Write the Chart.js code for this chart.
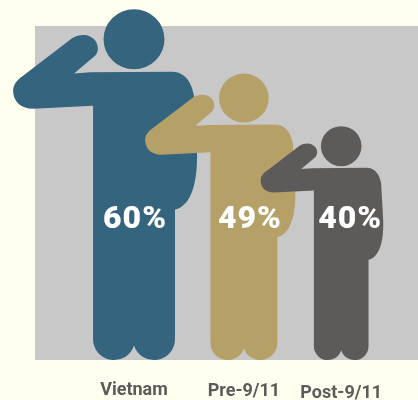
<!DOCTYPE html>
<html>
<head>
<meta charset="utf-8">
<style>html,body{margin:0;padding:0;background:#FFFFF0;overflow:hidden}canvas{display:block}</style>
<script src="https://cdn.jsdelivr.net/npm/chart.js@4"></script>
</head>
<body>
<canvas id="c" width="418" height="400"></canvas>
<script>
const categories = ['Vietnam', 'Pre-9/11', 'Post-9/11'];
const percentages = [60, 49, 40];
const figureColors = ['#35647E', '#B5A068', '#5C5B59'];

// Category scale whose slots are unevenly spaced, so bars and ticks both follow it.
class SlotScale extends Chart.CategoryScale {
  static id = 'slot';
  static defaults = Chart.CategoryScale.defaults;
  getPixelForValue(value) {
    const v = typeof value === 'number' ? value : this.parse(value);
    return this.left + this.width * this.options.slotCentres[v];
  }
  _computeLabelItems(area) {
    const items = super._computeLabelItems(area);
    items.forEach((it, i) => { it.options.translation[1] += this.options.labelDrop[i] || 0; });
    return items;
  }
}
Chart.register(SlotScale);

// Saluting-figure template: 350 glyph units tall, origin at foot centre.
const glyphHeight = 350;
const bodyPath = new Path2D(
  'M-41 -254.5 L-101 -251.5 C-114 -251.5 -121 -259.5 -121 -269.5 C-121 -275.5 -117 -280.5 -111 -284.5 ' +
  'L-62 -322 C-56 -326 -44 -327.5 -38 -318.5 C-35 -312.5 -36 -307.5 -39 -304.5 L-60 -286.8 ' +
  'L-44 -288 L38 -288.5 C51 -288.5 58 -277.5 60 -264.5 L63 -209.5 C64 -179.5 58 -154.5 41 -150.5 ' +
  'L41 -21 A21 21 0 0 1 0 -14.5 A21 21 0 0 1 -41 -21 Z');
const headPath = new Path2D('M30.5 -321 A30.5 30 0 1 1 -30.5 -321 A30.5 30 0 1 1 30.5 -321 Z');

const saluteFigures = {
  id: 'saluteFigures',
  beforeDraw(chart) {
    const { ctx, chartArea: a } = chart;
    ctx.save();
    ctx.fillStyle = '#C8C8C8';
    ctx.fillRect(a.left, a.top, a.right - a.left, a.bottom - a.top);
    ctx.restore();
  },
  afterDatasetsDraw(chart, args, opts) {
    const { ctx } = chart;
    const bars = chart.getDatasetMeta(0).data;
    bars.forEach((bar, i) => {
      const s = (bar.base - bar.y) / glyphHeight;
      ctx.save();
      ctx.translate(bar.x, bar.base);
      ctx.scale(s, s);
      ctx.fillStyle = figureColors[i];
      ctx.fill(bodyPath);
      ctx.fill(headPath);
      ctx.restore();
    });
    ctx.save();
    ctx.fillStyle = '#FFFFFF';
    ctx.font = opts.font;
    ctx.textAlign = 'center';
    ctx.textBaseline = 'middle';
    ctx.letterSpacing = opts.spacing;
    const labelY = chart.scales.y.getPixelForValue(opts.labelLevel);
    bars.forEach((bar, i) => {
      ctx.fillText(percentages[i] + '%', bar.x + opts.shift[i], labelY);
    });
    ctx.restore();
  }
};

new Chart(document.getElementById('c'), {
  type: 'bar',
  data: {
    labels: categories,
    datasets: [{ data: percentages, backgroundColor: 'rgba(0,0,0,0)', borderWidth: 0 }]
  },
  plugins: [saluteFigures],
  options: {
    responsive: false,
    animation: false,
    layout: { padding: { left: 35, top: 26, right: 0, bottom: 0 } },
    plugins: {
      legend: { display: false },
      tooltip: { enabled: false },
      saluteFigures: {
        font: '900 32px Roboto',
        spacing: '1px',
        labelLevel: 24.1,
        shift: [1, 6, 9]
      }
    },
    scales: {
      x: {
        type: 'slot',
        slotCentres: [0.2585, 0.5454, 0.7995],
        labelDrop: [0, 1, 3],
        grid: { display: false, drawTicks: false },
        border: { display: false },
        afterFit(scale) { scale.height = 40; },
        ticks: {
          color: '#5C5B59',
          font: { family: 'Roboto', weight: '700', size: 18 },
          padding: 20,
          autoSkip: false,
          maxRotation: 0
        }
      },
      y: {
        display: false,
        min: 0,
        max: 57.3
      }
    }
  }
});
</script>
</body>
</html>
